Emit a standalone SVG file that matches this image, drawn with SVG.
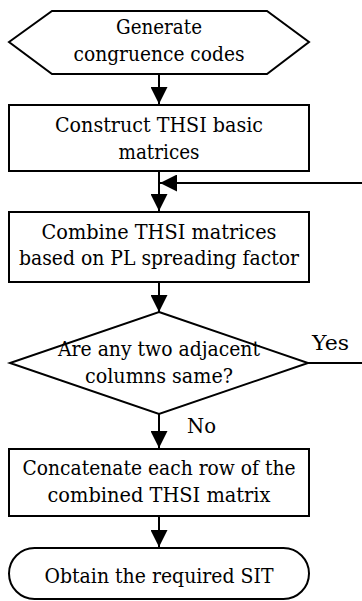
<svg xmlns="http://www.w3.org/2000/svg" width="362" height="601" viewBox="0 0 362 601">
<style>
.shape{fill:#fff;stroke:#000;stroke-width:2}
.conn{fill:none;stroke:#000;stroke-width:2}
.t{font-family:"DejaVu Serif","Liberation Serif","Times New Roman",serif;font-size:21px;fill:#000}
.c{text-anchor:middle}
</style>
<defs>
<marker id="arr" markerUnits="userSpaceOnUse" markerWidth="17" markerHeight="17" refX="17" refY="8.5" orient="auto" viewBox="0 0 17 17">
<path d="M0,0 L17,8.5 L0,17 Z" fill="#000"/>
</marker>
</defs>
<rect width="362" height="601" fill="#fff"/>
<g id="connectors">
<path class="conn" d="M159,74 V104" marker-end="url(#arr)"/>
<path class="conn" d="M159,171 V211" marker-end="url(#arr)"/>
<path class="conn" d="M308,363 H372 V183 H160" marker-end="url(#arr)"/>
<path class="conn" d="M159,282 V312" marker-end="url(#arr)"/>
<path class="conn" d="M159,414 V448" marker-end="url(#arr)"/>
<path class="conn" d="M159,516 V547" marker-end="url(#arr)"/>
<text class="t" x="312" y="350" textLength="37" lengthAdjust="spacingAndGlyphs">Yes</text>
<text class="t" x="187" y="433" textLength="29" lengthAdjust="spacingAndGlyphs">No</text>
</g>
<g id="start">
<polygon class="shape" points="9,42 52,11 267,11 309,42 267,74 52,74"/>
<text class="t c" x="159" y="34" textLength="86" lengthAdjust="spacingAndGlyphs">Generate</text>
<text class="t c" x="159" y="61" textLength="171" lengthAdjust="spacingAndGlyphs">congruence codes</text>
</g>
<g id="construct">
<rect class="shape" x="9" y="105" width="300" height="66"/>
<text class="t c" x="159" y="132" textLength="208" lengthAdjust="spacingAndGlyphs">Construct THSI basic</text>
<text class="t c" x="159" y="159" textLength="81" lengthAdjust="spacingAndGlyphs">matrices</text>
</g>
<g id="combine">
<rect class="shape" x="9" y="212" width="300" height="70"/>
<text class="t c" x="159" y="239" textLength="235" lengthAdjust="spacingAndGlyphs">Combine THSI matrices</text>
<text class="t c" x="159" y="265" textLength="280" lengthAdjust="spacingAndGlyphs">based on PL spreading factor</text>
</g>
<g id="decision">
<polygon class="shape" points="159,312 308,363 159,414 10,363"/>
<text class="t c" x="159" y="356" textLength="202" lengthAdjust="spacingAndGlyphs">Are any two adjacent</text>
<text class="t c" x="159" y="383" textLength="148" lengthAdjust="spacingAndGlyphs">columns same?</text>
</g>
<g id="concatenate">
<rect class="shape" x="9" y="449" width="300" height="67"/>
<text class="t c" x="159" y="475" textLength="273" lengthAdjust="spacingAndGlyphs">Concatenate each row of the</text>
<text class="t c" x="159" y="502" textLength="223" lengthAdjust="spacingAndGlyphs">combined THSI matrix</text>
</g>
<g id="end">
<rect class="shape" x="9" y="548" width="300" height="51" rx="25.5" ry="25.5"/>
<text class="t c" x="159" y="583" textLength="229" lengthAdjust="spacingAndGlyphs">Obtain the required SIT</text>
</g>
</svg>
